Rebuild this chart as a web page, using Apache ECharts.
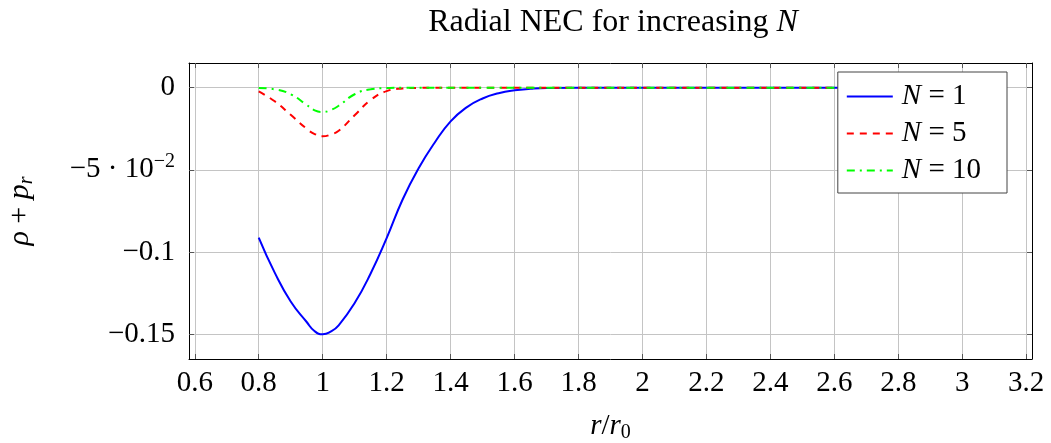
<!DOCTYPE html>
<html>
<head>
<meta charset="utf-8">
<script src="https://cdn.jsdelivr.net/npm/echarts@6/dist/echarts.min.js"></script>
<style>
  html, body { margin: 0; padding: 0; background: #fff; }
  #chart { width: 1051px; height: 443px; }
</style>
</head>
<body>
<div id="chart"></div>
<script>
// radial coordinate r/r0
var rValues = [0.8, 0.85, 0.9, 0.95, 0.975, 1.0, 1.025, 1.05, 1.1, 1.15, 1.2, 1.25, 1.3, 1.35,
               1.4, 1.45, 1.5, 1.55, 1.6, 1.65, 1.7, 1.8, 2.0, 2.5, 3.0];

// rho + p_r for each N
var necN1 = [-0.0912, -0.1125, -0.130, -0.1425, -0.1481, -0.150, -0.1484, -0.1445, -0.131,
             -0.113, -0.0915, -0.068, -0.049, -0.0335, -0.0205, -0.012, -0.0066, -0.0034,
             -0.0016, -0.0007, -0.0002, 0, 0, 0, 0];
var necN5 = [-0.0023, -0.0083, -0.0165, -0.025, -0.0282, -0.0296, -0.0285, -0.0262, -0.0168,
             -0.0075, -0.0021, -0.0005, -0.0001, 0, 0, 0, 0, 0, 0, 0, 0, 0, 0, 0, 0];
var necN10 = [-0.0002, -0.001, -0.004, -0.0105, -0.0138, -0.0148, -0.0136, -0.011, -0.004,
              -0.001, -0.0002, 0, 0, 0, 0, 0, 0, 0, 0, 0, 0, 0, 0, 0, 0];

var seriesNames = ['N = 1', 'N = 5', 'N = 10'];
var seriesColors = ['#0000ff', '#ff0000', '#00ff00'];

// tick positions
var xTicks = [0.6, 0.8, 1, 1.2, 1.4, 1.6, 1.8, 2, 2.2, 2.4, 2.6, 2.8, 3, 3.2];
var yTicks = [-0.15, -0.1, -0.05, 0];

var FONT = '"Liberation Serif", "DejaVu Serif", serif';
var GRID_COLOR = '#c4c4c4';
var FS = 29;

function pairs(vals) {
  return rValues.map(function(r, i) { return [r, vals[i]]; });
}

function yLabel(v) {
  if (Math.abs(v) < 1e-9) return '0';
  if (Math.abs(v + 0.05) < 1e-9) return '{t|\u22125 \u00b7 10}{sup|\u22122}';
  return '\u2212' + String(Math.abs(Math.round(v * 100) / 100));
}

function xLabel(v) {
  return String(Math.round(v * 10) / 10);
}

var chart = echarts.init(document.getElementById('chart'), null, { renderer: 'canvas' });

var xBase = {
  type: 'value',
  min: 0.582,
  max: 3.218,
  axisLine: { show: true, onZero: false, lineStyle: { color: '#000', width: 1 } },
  axisTick: { show: true, inside: true, length: 5, customValues: xTicks,
              lineStyle: { color: '#555' } }
};
var yBase = {
  type: 'value',
  min: -0.165,
  max: 0.015,
  axisLine: { show: true, onZero: false, lineStyle: { color: '#000', width: 1 } },
  axisTick: { show: true, inside: true, length: 5, customValues: yTicks,
              lineStyle: { color: '#555' } }
};

var option = {
  animation: false,
  backgroundColor: '#fff',
  title: {
    text: 'Radial NEC for increasing {i|N}',
    left: 608,
    textAlign: 'center',
    top: 2,
    textStyle: {
      fontFamily: FONT, fontSize: 32, fontWeight: 'normal', color: '#000',
      rich: { i: { fontFamily: FONT, fontSize: 32, fontStyle: 'italic', color: '#000' } }
    }
  },
  grid: { left: 189, right: 19, top: 63, bottom: 84, containLabel: false,
          outerBoundsMode: 'none' },
  legend: {
    orient: 'vertical',
    right: 44,
    top: 72,
    padding: [10, 26, 8, 8],
    itemGap: 8,
    itemWidth: 46,
    itemHeight: 29,
    backgroundColor: '#fff',
    borderColor: '#444',
    borderWidth: 1,
    borderRadius: 0,
    data: seriesNames,
    itemStyle: { opacity: 0 },
    formatter: function(name) {
      return '{i|N} = ' + name.split('= ')[1];
    },
    textStyle: {
      fontFamily: FONT, fontSize: FS, color: '#000', padding: [0, 0, 0, 4],
      rich: { i: { fontFamily: FONT, fontSize: FS, fontStyle: 'italic', color: '#000' } }
    }
  },
  xAxis: [
    Object.assign({}, xBase, {
      position: 'bottom',
      name: '{i|r}/{i|r}{sub|0}',
      nameLocation: 'middle',
      nameGap: 50,
      nameTextStyle: {
        fontFamily: FONT, fontSize: FS, color: '#000',
        rich: {
          i: { fontFamily: FONT, fontSize: FS, fontStyle: 'italic', color: '#000' },
          sub: { fontFamily: FONT, fontSize: 20, color: '#000', padding: [14, 0, 0, 0] }
        }
      },
      axisLabel: {
        show: true, customValues: xTicks, margin: 10, formatter: xLabel,
        fontFamily: FONT, fontSize: FS, color: '#000'
      },
      splitLine: { show: true, lineStyle: { color: GRID_COLOR, width: 1 } }
    }),
    Object.assign({}, xBase, {
      position: 'top',
      axisLabel: { show: false },
      splitLine: { show: false }
    })
  ],
  yAxis: [
    Object.assign({}, yBase, {
      position: 'left',
      name: '{i|\u03c1} + {i|p}{sub|r}',
      nameLocation: 'middle',
      nameRotate: 90,
      nameGap: 152,
      nameTextStyle: {
        fontFamily: FONT, fontSize: 30, color: '#000',
        rich: {
          i: { fontFamily: FONT, fontSize: 30, fontStyle: 'italic', color: '#000' },
          sub: { fontFamily: FONT, fontSize: 20, fontStyle: 'italic', color: '#000',
                 padding: [14, 0, 0, 0] }
        }
      },
      axisLabel: {
        show: true, customValues: yTicks, margin: 14, formatter: yLabel,
        fontFamily: FONT, fontSize: FS, color: '#000',
        rich: {
          t: { fontFamily: FONT, fontSize: FS, color: '#000' },
          sup: { fontFamily: FONT, fontSize: 20, color: '#000', padding: [0, 0, 16, 0] }
        }
      },
      splitLine: { show: true, lineStyle: { color: GRID_COLOR, width: 1 } }
    }),
    Object.assign({}, yBase, {
      position: 'right',
      axisLabel: { show: false },
      splitLine: { show: false }
    })
  ],
  series: [
    {
      name: seriesNames[0], type: 'line', data: pairs(necN1),
      smooth: 0.5, showSymbol: false, symbol: 'none',
      color: seriesColors[0],
      lineStyle: { color: seriesColors[0], width: 2, type: 'solid' }
    },
    {
      name: seriesNames[1], type: 'line', data: pairs(necN5),
      smooth: 0.5, showSymbol: false, symbol: 'none',
      color: seriesColors[1],
      lineStyle: { color: seriesColors[1], width: 2, type: [7, 6] }
    },
    {
      name: seriesNames[2], type: 'line', data: pairs(necN10),
      smooth: 0.5, showSymbol: false, symbol: 'none',
      color: seriesColors[2],
      lineStyle: { color: seriesColors[2], width: 2, type: [8, 5, 2, 5] }
    }
  ]
};

chart.setOption(option);
</script>
</body>
</html>
